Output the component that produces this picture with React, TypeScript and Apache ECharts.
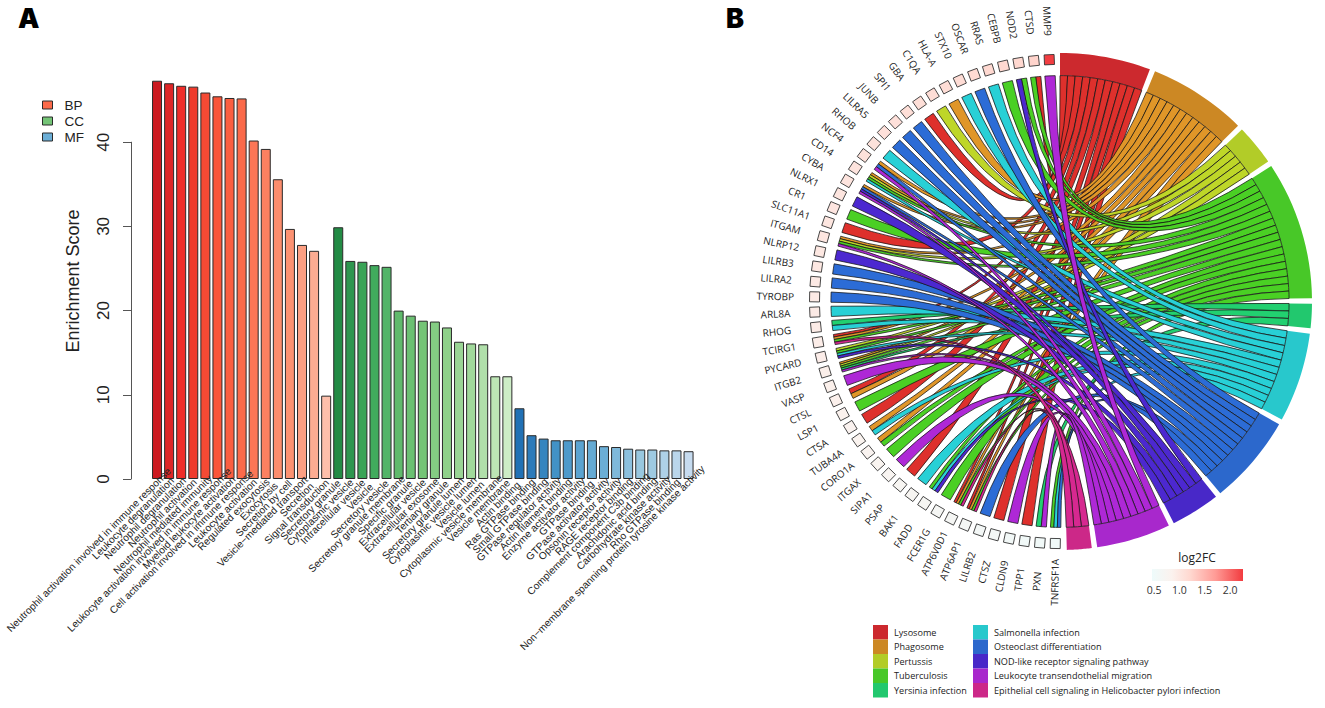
import React, { useEffect, useRef } from "react";
import * as echarts from "echarts";

// ---------- Panel A data ----------
const BP_NAMES = ["Neutrophil activation involved in immune response","Leukocyte degranulation","Neutrophil degranulation","Neutrophil activation","Neutrophil mediated immunity","Leukocyte activation involved in immune response","Myeloid leukocyte activation","Cell activation involved in immune response","Leukocyte activation","Regulated exocytosis","Exocytosis","Secretion by cell","Vesicle−mediated transport","Secretion","Signal transduction"];
const CC_NAMES = ["Secretory granule","Cytoplasmic vesicle","Intracellular vesicle","Vesicle","Secretory vesicle","Secretory granule membrane","Specific granule","Extracellular vesicle","Extracellular exosome","Tertiary granule","Secretory granule lumen","Cytoplasmic vesicle lumen","Vesicle lumen","Cytoplasmic vesicle membrane","Vesicle membrane"];
const MF_NAMES = ["Actin binding","Ras GTPase binding","Small GTPase binding","GTPase regulator activity","Actin filament binding","Enzyme activator activity","GTPase binding","GTPase activator activity","Opsonin receptor activity","RAGE receptor binding","Complement component C3b binding","Arachidonic acid binding","Carbohydrate kinase activity","Rho GTPase binding","Non−membrane spanning protein tyrosine kinase activity"];
const BP_VALUES = [47.3,47.0,46.7,46.6,45.9,45.45,45.25,45.2,40.2,39.2,35.6,29.7,27.8,27.1,9.9];
const CC_VALUES = [29.9,25.9,25.8,25.4,25.2,20.0,19.4,18.8,18.7,18.0,16.3,16.1,16.0,12.2,12.2];
const MF_VALUES = [8.4,5.2,4.8,4.6,4.6,4.6,4.6,3.9,3.8,3.6,3.5,3.5,3.4,3.4,3.3];
const BP_COLORS = ["#CC1A20","#DE2627","#EF2D29","#EF3B2C","#F54A34","#FA5539","#FB5F41","#FB6A4A","#FC7656","#FC8060","#FC8D6D","#FC9272","#FC9F83","#FCAC92","#FDBFAB"];
const CC_COLORS = ["#238B45","#2E964F","#3AA457","#41AB5D","#52B468","#60BA6C","#6BC072","#74C476","#84CC83","#8FD18A","#9AD595","#A1D99B","#B0DFAA","#BDE5B5","#CDEDC6"];
const MF_COLORS = ["#2171B5","#2D7BBA","#3585BF","#4292C6","#4E9ACB","#5BA3D0","#65AAD3","#6BAED6","#7FB9DA","#8CC0DD","#98C7DF","#9ECAE1","#AED1E7","#BAD6EB","#C6DBEF"];

// ---------- Panel B data ----------
const TERMS = ["Lysosome","Phagosome","Pertussis","Tuberculosis","Yersinia infection","Salmonella infection","Osteoclast differentiation","NOD-like receptor signaling pathway","Leukocyte transendothelial migration","Epithelial cell signaling in Helicobacter pylori infection"];
const BAND_COLORS = ["#CC292E","#CC8824","#B2CC28","#48C828","#22C86E","#28C8CC","#2C68CC","#4828C8","#A828CC","#CC2888"];
const RIBBON_COLORS = ["#DE302C","#E09628","#BED628","#4AD024","#22D070","#28D0D6","#2C6CD6","#4C28D0","#AE28D6","#D62890"];
const GENES = ["MMP9","CTSD","NOD2","CEBPB","RRAS","OSCAR","STX10","HLA-A","C1QA","GBA","SPI1","JUNB","LILRA5","RHOB","NCF4","CD14","CYBA","NLRX1","CR1","SLC11A1","ITGAM","NLRP12","LILRB3","LILRA2","TYROBP","ARL8A","RHOG","TCIRG1","PYCARD","ITGB2","VASP","CTSL","LSP1","CTSA","TUBA4A","CORO1A","ITGAX","SIPA1","PSAP","BAK1","FADD","FCER1G","ATP6V0D1","ATP6AP1","LILRB2","CTSZ","CLDN9","TPP1","PXN","TNFRSF1A"];
const LOG2FC = [2.25,1.25,1.22,1.2,1.2,1.18,1.16,1.15,1.14,1.12,1.12,1.1,1.1,1.08,1.08,1.06,1.05,1.04,1.03,1.02,1.02,1.0,1.0,0.98,0.97,0.96,0.95,0.93,0.92,0.9,0.89,0.88,0.86,0.84,0.82,0.8,0.78,0.76,0.74,0.72,0.7,0.68,0.66,0.64,0.62,0.6,0.58,0.56,0.54,0.52];
// Term indexes of each gene: 0 Lyso, 1 Phag, 2 Pert, 3 Tub, 4 Yers, 5 Salm, 6 Oste, 7 NOD, 8 Leuk, 9 Epi
const MEMBERSHIP = [[8],[0,3],[3,7],[3],[5],[6],[5],[1],[2],[0],[6],[6],[6],[5],[1,6,8],[1,2,3,5],[1,6,7,8],[7],[3],[0],[1,2,3,8],[7],[6],[6],[6],[5],[4,5],[0,1,3,9],[2,3,5,7],[1,2,3,4,8],[8],[0,1],[3],[0],[1,5],[1,3],[3],[8],[0],[5],[3,5,7],[3],[0,1,3,9],[0,1,3,9],[6],[0],[8],[0],[4,8],[3,5,6]];
const FC_TICKS = ["0.5","1.0","1.5","2.0"];
const FC_STOPS = [[0,"#EEFBFB"],[0.22,"#FBF2EE"],[0.42,"#FFD8D0"],[0.7,"#FF9A95"],[1,"#F23B3F"]] as [number,string][];

const fcColor = (v: number) => {
  const t = Math.min(1, Math.max(0, (v - 0.46) / 1.8));
  for (let i = 1; i < FC_STOPS.length; i++) {
    if (t <= FC_STOPS[i][0]) {
      const [a, ca] = FC_STOPS[i - 1];
      const [b, cb] = FC_STOPS[i];
      return echarts.color.lerp((t - a) / (b - a), [ca, cb]) as string;
    }
  }
  return FC_STOPS[FC_STOPS.length - 1][1];
};

// geometry in unit circle; clockwise degrees from the top
const R_IN = 0.909, R_SQ = 0.974, R_LABEL = 1.13;
const GENE_START = -2.5, GENE_STEP = 3.6, GENE_W = 2.6;
const TERM_UNIT = 1.9, TERM_GAP = 1.25, SQ = 5;
const geneAngle = (i: number) => GENE_START - GENE_STEP * i;
const polar = (deg: number, r: number) => {
  const a = (deg * Math.PI) / 180;
  return [Math.sin(a) * r, Math.cos(a) * r];
};

const termLinks = TERMS.map((_, t) => {
  const out: { gene: number; strip: number; count: number }[] = [];
  MEMBERSHIP.forEach((m, gene) => {
    const strip = m.indexOf(t);
    if (strip >= 0) out.push({ gene, strip, count: m.length });
  });
  return out;
});
const termStart: number[] = [];
termLinks.reduce((acc, l, i) => {
  termStart[i] = acc;
  return acc + l.length * TERM_UNIT + TERM_GAP;
}, 0);

const arcPts = (api: any, from: number, to: number, r: number, n = 6) => {
  const pts: number[][] = [];
  for (let i = 0; i <= n; i++) pts.push(api.coord(polar(from + ((to - from) * i) / n, r)));
  return pts;
};

const termSeries = (t: number) => ({
  type: "custom",
  name: TERMS[t],
  xAxisIndex: 1,
  yAxisIndex: 1,
  coordinateSystem: "cartesian2d",
  clip: false,
  silent: true,
  itemStyle: { color: BAND_COLORS[t] },
  data: [[0, 0], ...termLinks[t].map((l) => [l.gene, t])],
  renderItem: (params: any, api: any) => {
    const idx = params.dataIndex;
    if (idx === 0) {
      const s = termStart[t], e = s + termLinks[t].length * TERM_UNIT;
      const outer = arcPts(api, s, e, 1, 16);
      const inner = arcPts(api, e, s, R_IN, 16);
      return { type: "polygon", shape: { points: [...outer, ...inner] }, style: { fill: BAND_COLORS[t] } };
    }
    const link = termLinks[t][idx - 1];
    const g = geneAngle(link.gene);
    const sw = GENE_W / link.count;
    const s2 = g + GENE_W / 2 - link.strip * sw;
    const s1 = s2 - sw;
    const b1 = termStart[t] + (idx - 1) * TERM_UNIT;
    const b2 = b1 + TERM_UNIT;
    const c = api.coord([0, 0]);
    const fmt = (p: number[]) => `${p[0].toFixed(2)} ${p[1].toFixed(2)}`;
    const ga = arcPts(api, s1, s2, R_IN, 2);
    const ta = arcPts(api, b1, b2, R_IN, 2);
    const d =
      `M${fmt(ga[0])}L${fmt(ga[1])}L${fmt(ga[2])}` +
      `Q${fmt(c)} ${fmt(ta[0])}L${fmt(ta[1])}L${fmt(ta[2])}` +
      `Q${fmt(c)} ${fmt(ga[0])}Z`;
    return {
      type: "path",
      shape: { pathData: d },
      style: { fill: RIBBON_COLORS[t], stroke: "#141414", lineWidth: 0.75 },
    };
  },
});

const geneSeries = {
  type: "custom",
  name: "genes",
  xAxisIndex: 1,
  yAxisIndex: 1,
  coordinateSystem: "cartesian2d",
  clip: false,
  silent: true,
  data: GENES.map((_, i) => [i, LOG2FC[i]]),
  renderItem: (params: any, api: any) => {
    const i = params.dataIndex;
    const deg = geneAngle(i);
    const c = api.coord(polar(deg, R_SQ));
    const a = (deg * Math.PI) / 180;
    const ux = [Math.cos(a), Math.sin(a)], uy = [Math.sin(a), -Math.cos(a)];
    const corner = (p: number, q: number) => [c[0] + SQ * (p * ux[0] + q * uy[0]), c[1] + SQ * (p * ux[1] + q * uy[1])];
    const lp = api.coord(polar(deg, R_LABEL));
    return {
      type: "group",
      children: [
        {
          type: "polygon",
          shape: { points: [corner(-1, -1), corner(1, -1), corner(1, 1), corner(-1, 1)] },
          style: { fill: fcColor(LOG2FC[i]), stroke: "#333", lineWidth: 0.9 },
        },
        {
          type: "text",
          x: lp[0],
          y: lp[1],
          rotation: (-(deg + 90) * Math.PI) / 180,
          style: {
            text: GENES[i],
            x: 0,
            y: 0,
            align: "center",
            verticalAlign: "middle",
            font: '10px "Open Sans"',
            fill: "#222",
          },
        },
      ],
    };
  },
};

const ALL_NAMES = [...BP_NAMES, ...CC_NAMES, ...MF_NAMES];
const barSeries = (name: string, vals: number[], colors: string[], offset: number, legendColor: string) => ({
  type: "bar",
  name,
  xAxisIndex: 0,
  yAxisIndex: 0,
  barWidth: 10,
  barGap: "-100%",
  clip: false,
  silent: true,
  itemStyle: { color: legendColor, borderColor: "#2a2a2a", borderWidth: 1 },
  data: ALL_NAMES.map((_, i) => {
    const j = i - offset;
    if (j < 0 || j >= vals.length) return null;
    return { value: vals[j], itemStyle: { color: colors[j], borderColor: "#2a2a2a", borderWidth: 1 } };
  }),
});

// Category labels sit at a fixed point along their own length, as R's text(adj=) does
const LABEL_FONT = '10.2px "Liberation Sans"';
const measureCtx = document.createElement("canvas").getContext("2d")!;
const categoryLabels = {
  type: "custom",
  name: "categories",
  xAxisIndex: 0,
  yAxisIndex: 0,
  coordinateSystem: "cartesian2d",
  clip: false,
  silent: true,
  z: 6,
  data: ALL_NAMES.map((n) => [n, 0]),
  renderItem: (params: any, api: any) => {
    const name = ALL_NAMES[params.dataIndex];
    const p = api.coord([params.dataIndex, 0]);
    measureCtx.font = LABEL_FONT;
    const dx = measureCtx.measureText(name).width * Math.SQRT1_2;
    return {
      type: "text",
      x: p[0] - 5.5 + 0.11 * dx,
      y: p[1] + 9 - 0.115 * dx,
      rotation: Math.PI / 4,
      style: { text: name, x: 0, y: 0, align: "right", verticalAlign: "middle", font: LABEL_FONT, fill: "#222" },
    };
  },
};

const option: any = {
  animation: false,
  backgroundColor: "#fff",
  grid: [
    { left: 151, top: 142.2, width: 543.6, height: 336.8 },
    { left: 808, top: 53, width: 504, height: 497 },
    { left: 151, top: 83, width: 1, height: 396 },
  ],
  xAxis: [
    { type: "category", gridIndex: 0, data: ALL_NAMES, axisLine: { show: false }, axisTick: { show: false }, axisLabel: { show: false } },
    { type: "value", gridIndex: 1, min: -1, max: 1, show: false },
    { type: "value", gridIndex: 2, show: false },
  ],
  yAxis: [
    {
      type: "value",
      gridIndex: 0,
      min: 0,
      max: 40,
      interval: 10,
      offset: 20,
      splitLine: { show: false },
      axisLine: { show: true, lineStyle: { color: "#555", width: 1 } },
      axisTick: { show: true, length: 8, lineStyle: { color: "#555", width: 1 } },
      axisLabel: { rotate: 90, margin: 19, fontSize: 17, fontFamily: "Liberation Sans", color: "#222" },
    },
    { type: "value", gridIndex: 1, min: -1, max: 1, show: false },
    {
      type: "value",
      gridIndex: 2,
      min: 0,
      max: 47,
      name: "Enrichment Score",
      nameLocation: "middle",
      nameGap: 69,
      nameRotate: 90,
      nameTextStyle: { fontSize: 18, fontFamily: "Liberation Sans", color: "#222" },
      splitLine: { show: false },
      axisLine: { show: false },
      axisTick: { show: false },
      axisLabel: { show: false },
    },
  ],
  legend: [
    {
      data: ["BP", "CC", "MF"],
      orient: "vertical",
      left: 42,
      top: 98,
      itemWidth: 10,
      itemHeight: 8,
      itemGap: 2,
      icon: "rect",
      selectedMode: false,
      padding: 0,
      itemStyle: { borderColor: "#2a2a2a", borderWidth: 1 },
      textStyle: { fontSize: 13.5, fontFamily: "Liberation Sans", color: "#222", padding: [0, 0, 0, 7] },
    },
    {
      data: TERMS.slice(0, 5),
      orient: "vertical",
      left: 873,
      top: 625,
      itemWidth: 15,
      itemHeight: 14.5,
      itemGap: 0,
      icon: "rect",
      selectedMode: false,
      padding: 0,
      textStyle: { fontSize: 9.1, fontFamily: "Open Sans", color: "#222", padding: [0, 0, 0, 1] },
    },
    {
      data: TERMS.slice(5),
      orient: "vertical",
      left: 973,
      top: 625,
      itemWidth: 15,
      itemHeight: 14.5,
      itemGap: 0,
      icon: "rect",
      selectedMode: false,
      padding: 0,
      textStyle: { fontSize: 9.1, fontFamily: "Open Sans", color: "#222", padding: [0, 0, 0, 1] },
    },
  ],
  graphic: [
    { type: "text", x: 18, y: 5, style: { text: "A", font: '900 27px "Inter"', fill: "#000" } },
    { type: "text", x: 726, y: 5, style: { text: "B", font: '900 27px "Inter"', fill: "#000" } },
    { type: "text", x: 1197, y: 557, style: { text: "log2FC", font: '12px "Open Sans"', fill: "#222", align: "center", verticalAlign: "middle" } },
    {
      type: "rect",
      shape: { x: 1152, y: 569, width: 91, height: 12 },
      style: {
        fill: new echarts.graphic.LinearGradient(0, 0, 1, 0, FC_STOPS.map(([offset, color]) => ({ offset, color }))),
      },
    },
    ...FC_TICKS.map((t) => ({
      type: "text",
      x: 1154 + (parseFloat(t) - 0.5) * 50.7,
      y: 590,
      style: { text: t, font: '10.5px "Open Sans"', fill: "#333", align: "center", verticalAlign: "middle" },
    })),
  ],
  series: [
    barSeries("BP", BP_VALUES, BP_COLORS, 0, "#FB6A4A"),
    barSeries("CC", CC_VALUES, CC_COLORS, 15, "#74C476"),
    barSeries("MF", MF_VALUES, MF_COLORS, 30, "#6BAED6"),
    categoryLabels,
    ...TERMS.map((_, t) => termSeries(t)),
    geneSeries,
  ],
};

export default function App() {
  const ref = useRef<HTMLDivElement>(null);
  useEffect(() => {
    const chart = echarts.init(ref.current!, null, { renderer: "svg" });
    chart.setOption(option);
    return () => chart.dispose();
  }, []);
  return <div ref={ref} style={{ position: "fixed", left: 0, top: 0, width: 1325, height: 708 }} />;
}
